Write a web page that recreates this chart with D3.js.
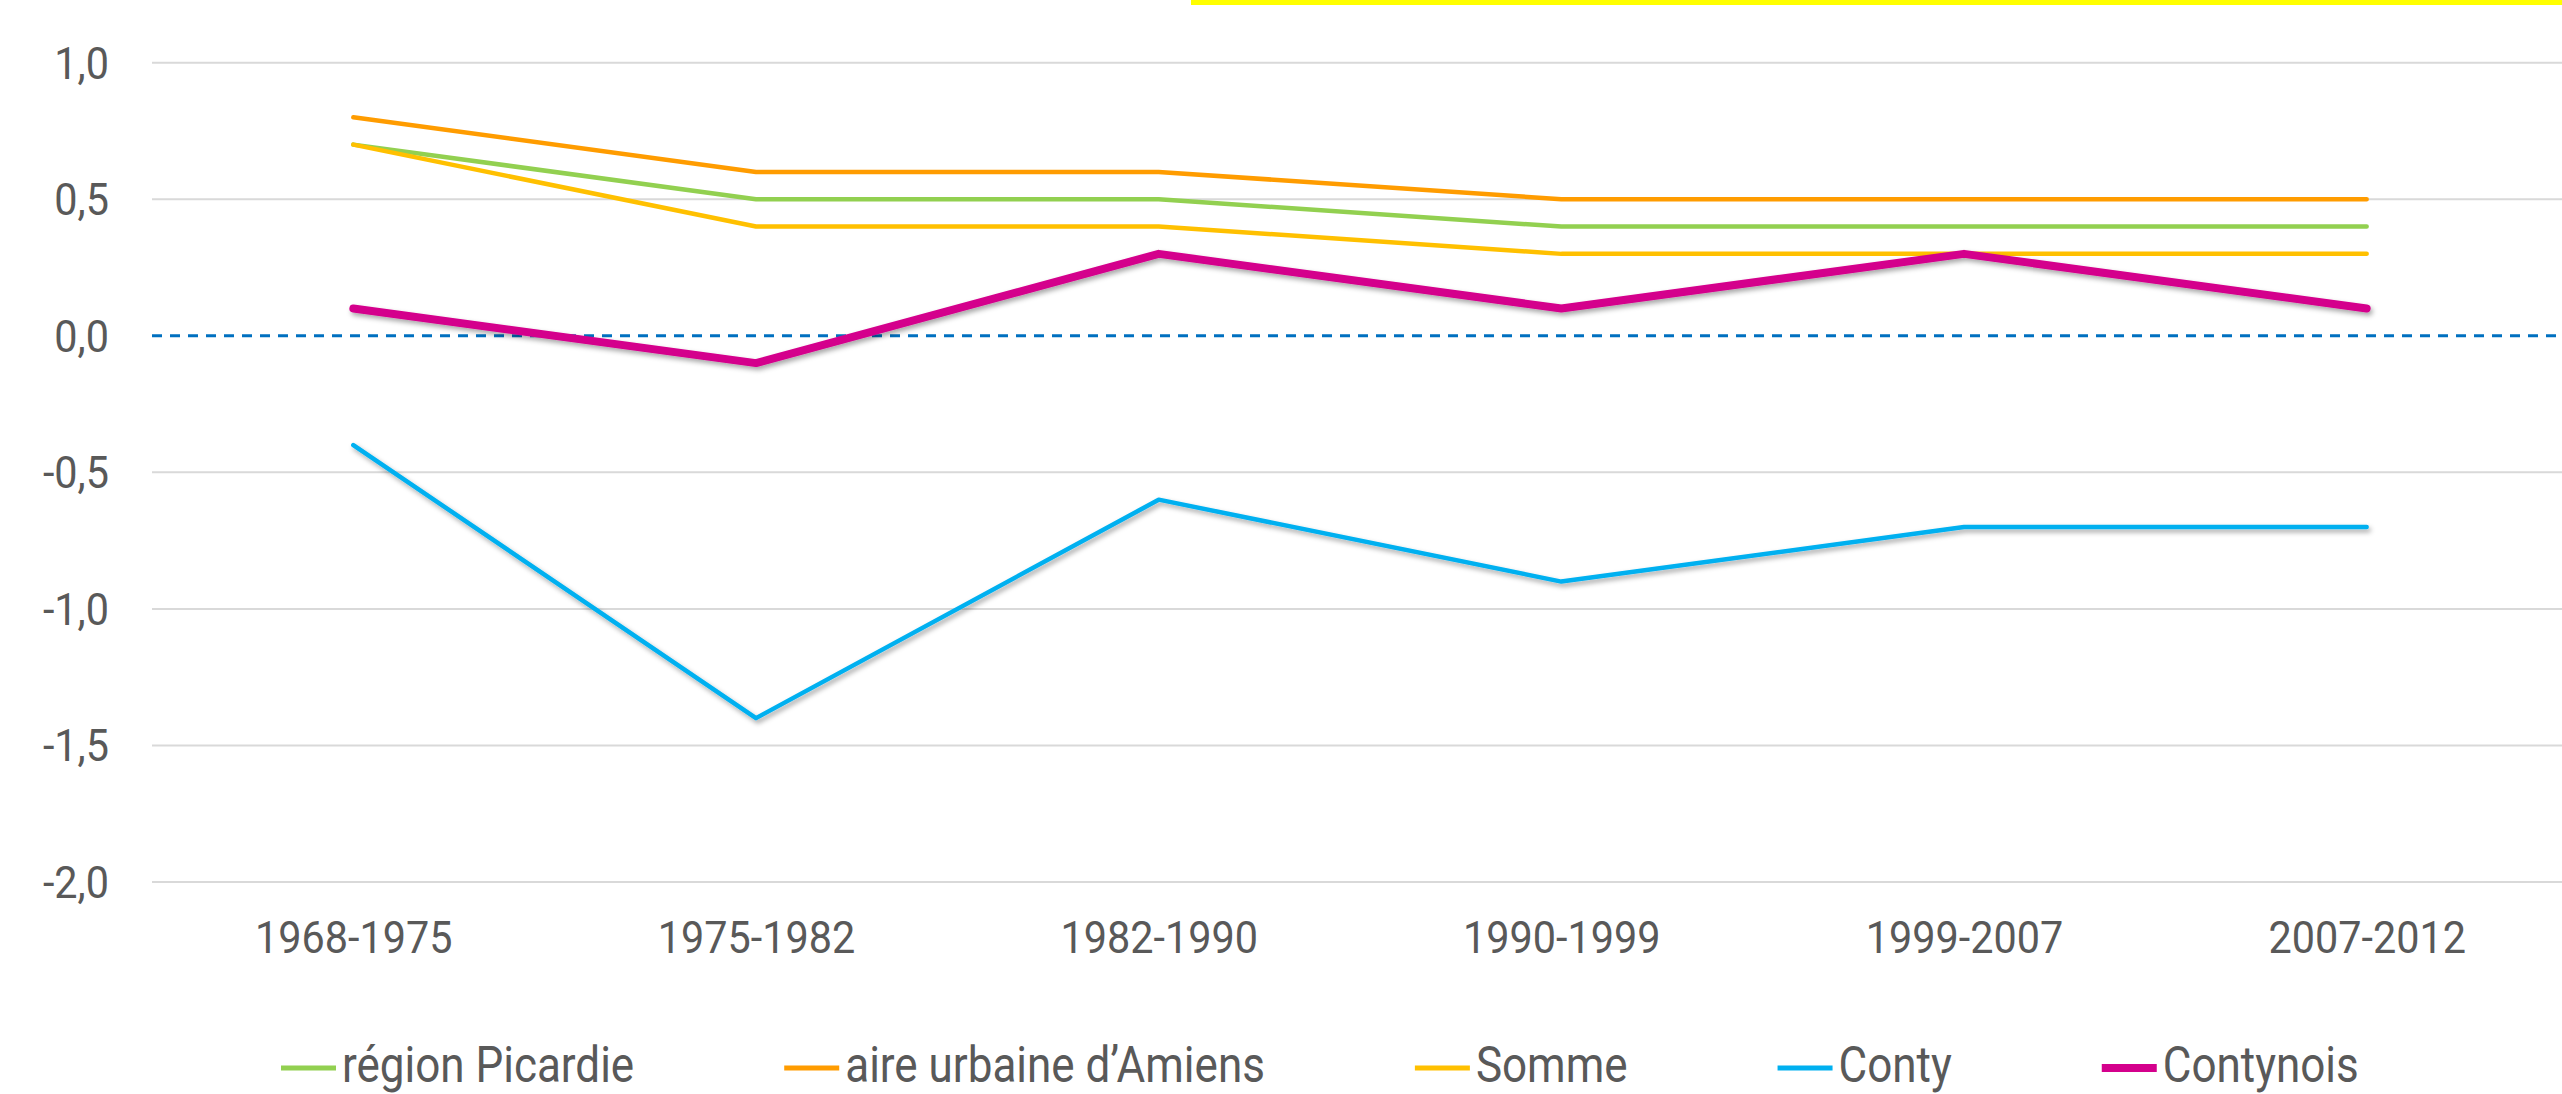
<!DOCTYPE html>
<html>
<head>
<meta charset="utf-8">
<script src="https://cdnjs.cloudflare.com/ajax/libs/d3/7.8.5/d3.min.js"></script>
<style>
    body { margin: 0; background: #fff; }
    text { font-family: Roboto, "Noto Sans", sans-serif; fill: #595959; }
</style>
</head>
<body>
<div class="graph"></div>
<script>
// data
var periods = ["1968-1975", "1975-1982", "1982-1990", "1990-1999", "1999-2007", "2007-2012"];
var picardie = [0.7, 0.5, 0.5, 0.4, 0.4, 0.4];
var amiens = [0.8, 0.6, 0.6, 0.5, 0.5, 0.5];
var somme = [0.7, 0.4, 0.4, 0.3, 0.3, 0.3];
var conty = [-0.4, -1.4, -0.6, -0.9, -0.7, -0.7];
var contynois = [0.1, -0.1, 0.3, 0.1, 0.3, 0.1];
var seriesNames = ["région Picardie", "aire urbaine d\u2019Amiens", "Somme", "Conty", "Contynois"];
var yTicks = [1.0, 0.5, 0.0, -0.5, -1.0, -1.5, -2.0];

var colors = ["#92D050", "#FF9C00", "#FFC000", "#00B0F0", "#D4008C"];
var widths = [4.5, 4.5, 4.5, 4.5, 8];

var W = 2562, H = 1094;
var margin = {top: 62.7, right: -6, bottom: 212, left: 152};

var svg = d3.select(".graph").append("svg")
    .attr("width", W)
    .attr("height", H);

// shadow for the two local series
var defs = svg.append("defs");
defs.append("filter")
    .attr("id", "shadow")
    .attr("x", "-5%").attr("y", "-20%")
    .attr("width", "110%").attr("height", "140%")
    .append("feDropShadow")
    .attr("dx", 2).attr("dy", 3)
    .attr("stdDeviation", 2.5)
    .attr("flood-color", "#000")
    .attr("flood-opacity", 0.35);

// yellow bar on top
svg.append("rect")
    .attr("x", 1191).attr("y", 0)
    .attr("width", W - 1191).attr("height", 5)
    .attr("fill", "#FFFF00");

var x = d3.scalePoint()
    .domain(periods)
    .range([margin.left, W - margin.right])
    .padding(0.5);

var y = d3.scaleLinear()
    .domain([-2, 1])
    .range([H - margin.bottom, margin.top]);

//===============grid==============
svg.append("g")
    .selectAll("line")
    .data(yTicks.filter(function (d) { return d !== 0; }))
    .enter()
    .append("line")
    .attr("x1", margin.left)
    .attr("x2", W)
    .attr("y1", function (d) { return y(d); })
    .attr("y2", function (d) { return y(d); })
    .attr("stroke", "#D9D9D9")
    .attr("stroke-width", 2);

// zero line dashed
svg.append("line")
    .attr("x1", margin.left)
    .attr("x2", W)
    .attr("y1", y(0))
    .attr("y2", y(0))
    .attr("stroke", "#0070C0")
    .attr("stroke-width", 3)
    .attr("stroke-dasharray", "10,8");

//===============axis==============
var yAxisCall = d3.axisLeft(y)
    .tickValues(yTicks)
    .tickSize(0)
    .tickPadding(0)
    .tickFormat(function (d) { return d3.format(".1f")(d).replace(".", ",").replace("\u2212", "-"); });

var yAxis = svg.append("g")
    .attr("class", "y-axis")
    .attr("transform", "translate(109,0)")
    .call(yAxisCall);
yAxis.select(".domain").remove();
yAxis.selectAll("text")
    .attr("x", 0)
    .attr("dy", "0.34em")
    .style("font-size", "45px")
    .attr("transform", "scale(0.92,1)")
    .attr("fill", "#595959");

var xAxisCall = d3.axisBottom(x).tickSize(0).tickPadding(0);
var xAxis = svg.append("g")
    .attr("class", "x-axis")
    .attr("transform", "translate(0,953)")
    .call(xAxisCall);
xAxis.select(".domain").remove();
xAxis.selectAll(".tick text")
    .attr("x", 0)
    .attr("y", 0)
    .attr("dy", 0)
    .style("font-size", "45px")
    .attr("transform", "scale(0.92,1)")
    .attr("fill", "#595959");

//===============lines==============
var allSeries = [picardie, amiens, somme, conty, contynois];
var line = d3.line()
    .x(function (d, i) { return x(periods[i]); })
    .y(function (d) { return y(d); });

svg.append("g")
    .selectAll("path")
    .data(allSeries)
    .enter()
    .append("path")
    .attr("d", function (d) { return line(d); })
    .attr("fill", "none")
    .attr("stroke", function (d, i) { return colors[i]; })
    .attr("stroke-width", function (d, i) { return widths[i]; })
    .attr("stroke-linecap", "round")
    .attr("stroke-linejoin", "round")
    .attr("filter", function (d, i) { return i >= 3 ? "url(#shadow)" : null; });

//===============legend==============
var legend = svg.append("g").attr("class", "legend");
var lx = 281;
var sx = 0.88;
seriesNames.forEach(function (name, i) {
    var item = legend.append("g");
    item.append("line")
        .attr("x1", lx).attr("x2", lx + 55)
        .attr("y1", 1068).attr("y2", 1068)
        .attr("stroke", colors[i])
        .attr("stroke-width", i === 4 ? 8 : 5);
    var t = item.append("text")
        .attr("x", (lx + 61) / sx)
        .attr("y", 1082)
        .attr("transform", "scale(" + sx + ",1)")
        .style("font-size", "50px")
        .text(name);
    var tw = t.node().getComputedTextLength() * sx;
    lx = lx + 61 + tw + 150;
});
</script>
</body>
</html>
